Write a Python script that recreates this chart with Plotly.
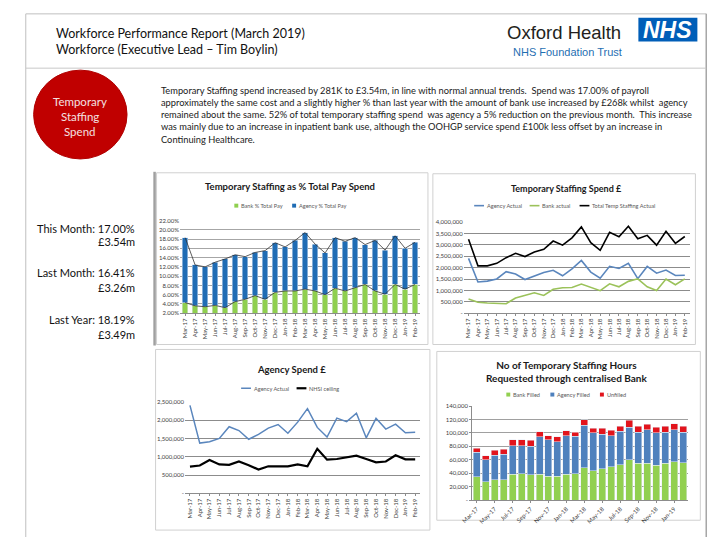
import plotly.graph_objects as go

months = ["Mar-17", "Apr-17", "May-17", "Jun-17", "Jul-17", "Aug-17", "Sep-17", "Oct-17",
          "Nov-17", "Dec-17", "Jan-18", "Feb-18", "Mar-18", "Apr-18", "May-18", "Jun-18",
          "Jul-18", "Aug-18", "Sep-18", "Oct-18", "Nov-18", "Dec-18", "Jan-19", "Feb-19"]

# Chart 1: temporary staffing as % of total pay (stack tops)
total_pct = [18.3, 12.4, 12.0, 13.0, 13.7, 14.6, 14.2, 15.1, 15.5, 17.2, 16.3, 17.7,
             19.4, 16.9, 15.0, 18.3, 17.5, 18.3, 16.8, 17.7, 15.6, 18.7, 16.0, 17.3]
bank_pct = [4.3, 3.6, 3.4, 3.7, 3.2, 4.5, 5.0, 5.8, 5.0, 6.5, 6.8, 6.8,
            7.2, 6.8, 6.0, 7.4, 6.8, 7.5, 8.2, 6.8, 6.1, 8.2, 7.2, 8.2]

# Chart 2 / 3: spend in £
agency_actual = [2410000, 1375000, 1410000, 1505000, 1825000, 1720000, 1480000, 1615000,
                 1785000, 1885000, 1645000, 1950000, 2320000, 1805000, 1540000, 2060000,
                 1965000, 2195000, 1520000, 2055000, 1760000, 1895000, 1660000, 1670000]
bank_actual = [620000, 480000, 450000, 450000, 420000, 670000, 780000, 900000,
               780000, 1050000, 1120000, 1130000, 1280000, 1130000, 990000, 1290000,
               1160000, 1400000, 1510000, 1160000, 1000000, 1500000, 1250000, 1510000]
total_actual = [3250000, 2080000, 2080000, 2190000, 2440000, 2630000, 2490000, 2690000,
                2810000, 3170000, 2990000, 3310000, 3790000, 3100000, 2760000, 3550000,
                3360000, 3820000, 3270000, 3420000, 2990000, 3600000, 3070000, 3370000]
nhsi_ceiling = [730000, 760000, 910000, 790000, 780000, 870000, 770000, 650000,
                740000, 740000, 740000, 790000, 740000, 1220000, 920000, 940000,
                990000, 1030000, 940000, 850000, 870000, 1040000, 930000, 930000]

# Chart 4: hours requested through centralised bank
bank_filled = [34800, 27400, 30400, 30400, 38200, 39200, 37700, 38200, 35300, 35300, 38200, 39200,
               48000, 44100, 47000, 50000, 52400, 59800, 54900, 54900, 51900, 54900, 56800, 55400]
agency_filled = [36700, 32400, 36700, 38200, 42700, 41700, 42700, 56400, 54400, 51900, 57800, 55900,
                 63700, 55900, 51000, 46000, 50000, 49000, 46000, 49500, 48100, 46000, 47600, 45500]
unfilled = [5900, 6300, 7400, 7400, 8800, 8800, 8800, 6800, 6300, 6900, 6900, 5800,
            7900, 6800, 8800, 7900, 7400, 10300, 8900, 8300, 8800, 8900, 9300, 9400]

pct_ticks = [2, 4, 6, 8, 10, 12, 14, 16, 18, 20, 22]
spend_ticks = [0, 500000, 1000000, 1500000, 2000000, 2500000, 3000000, 3500000, 4000000]
agency_ticks = [0, 500000, 1000000, 1500000, 2000000, 2500000]
hours_ticks = [0, 20000, 40000, 60000, 80000, 100000, 120000, 140000]
hours_label_months = months[::2]

W, H = 720, 540
def X(p): return p / W
def Y(p): return 1 - p / H

FONT = "Lato, Carlito, Calibri, sans-serif"
SANS = "Liberation Sans, Arial, sans-serif"

GREEN1 = "#8fcf4f"
BLUE1 = "#1f6cb4"
AG_BLUE = "#5a86bd"
BANK_GREEN = "#9bc25a"
H_GREEN = "#92d050"
H_BLUE = "#4f81bd"
H_RED = "#e2141c"

agency_pct = [round(t - b, 2) for t, b in zip(total_pct, bank_pct)]

def fmt_num(v):
    return "-" if v == 0 else f"{v:,.0f}"

fig = go.Figure()

# ---- Chart 1
fig.add_trace(go.Bar(x=months, y=bank_pct, name="Bank % Total Pay", marker_color=GREEN1,
                     width=0.55, xaxis="x", yaxis="y"))
fig.add_trace(go.Bar(x=months, y=agency_pct, name="Agency % Total Pay", marker_color=BLUE1,
                     width=0.55, xaxis="x", yaxis="y"))
fig.add_trace(go.Scatter(x=months, y=total_pct, mode="lines", line=dict(color="#333333", width=0.8),
                         xaxis="x", yaxis="y", hoverinfo="skip"))
fig.add_trace(go.Scatter(x=months, y=bank_pct, mode="lines", line=dict(color="#333333", width=0.8),
                         xaxis="x", yaxis="y", hoverinfo="skip"))

# ---- Chart 2
fig.add_trace(go.Scatter(x=months, y=agency_actual, mode="lines", name="Agency Actual",
                         line=dict(color=AG_BLUE, width=1.6), xaxis="x2", yaxis="y2"))
fig.add_trace(go.Scatter(x=months, y=bank_actual, mode="lines", name="Bank actual",
                         line=dict(color=BANK_GREEN, width=1.6), xaxis="x2", yaxis="y2"))
fig.add_trace(go.Scatter(x=months, y=total_actual, mode="lines", name="Total Temp Staffing Actual",
                         line=dict(color="#000000", width=1.6), xaxis="x2", yaxis="y2"))

# ---- Chart 3
fig.add_trace(go.Scatter(x=months, y=agency_actual, mode="lines", name="Agency Actual",
                         line=dict(color=AG_BLUE, width=1.5), xaxis="x3", yaxis="y3"))
fig.add_trace(go.Scatter(x=months, y=nhsi_ceiling, mode="lines", name="NHSI ceiling",
                         line=dict(color="#000000", width=2.2), xaxis="x3", yaxis="y3"))

# ---- Chart 4
fig.add_trace(go.Bar(x=months, y=bank_filled, name="Bank Filled", marker_color=H_GREEN,
                     width=0.78, xaxis="x4", yaxis="y4"))
fig.add_trace(go.Bar(x=months, y=agency_filled, name="Agency Filled", marker_color=H_BLUE,
                     width=0.78, xaxis="x4", yaxis="y4"))
fig.add_trace(go.Bar(x=months, y=unfilled, name="Unfilled", marker_color=H_RED,
                     width=0.78, xaxis="x4", yaxis="y4"))

tickfont = dict(family=FONT, size=6, color="#404040")

def xax(domain, anchor, **kw):
    d = dict(domain=domain, anchor=anchor, type="category", range=[-0.5, 23.5],
             tickfont=tickfont, showgrid=False, showline=True, linecolor="#8c8c8c", linewidth=1,
             ticks="outside", ticklen=2, tickcolor="#8c8c8c", zeroline=False, fixedrange=True)
    d.update(kw)
    return d

def yax(domain, anchor, rng, vals, texts, grid="#8c8c8c", **kw):
    d = dict(domain=domain, anchor=anchor, range=rng, tickvals=vals, ticktext=texts,
             tickfont=tickfont, showgrid=True, gridcolor=grid, gridwidth=1, zeroline=False,
             showline=False, ticks="", fixedrange=True)
    d.update(kw)
    return d

fig.update_layout(
    width=W, height=H, margin=dict(l=0, r=0, t=0, b=0, pad=0),
    paper_bgcolor="white", plot_bgcolor="rgba(0,0,0,0)",
    barmode="stack", showlegend=False,
    xaxis=xax([X(171), X(415)], "y", tickangle=-90),
    yaxis=yax([Y(313.3), Y(219.3)], "x", [2, 22], pct_ticks, [f"{v:.2f}%" for v in pct_ticks],
              grid="#a6a6a6"),
    xaxis2=xax([X(459.5), X(689)], "y2", tickangle=-90),
    yaxis2=yax([Y(313.3), Y(221)], "x2", [0, 4000000], spend_ticks, [fmt_num(v) for v in spend_ticks]),
    xaxis3=xax([X(176), X(415)], "y3", tickangle=-90),
    yaxis3=yax([Y(495.7), Y(403.3)], "x3", [0, 2500000], agency_ticks, [fmt_num(v) for v in agency_ticks]),
    xaxis4=xax([X(468), X(687)], "y4", tickangle=-45, tickvals=hours_label_months,
               ticktext=hours_label_months),
    yaxis4=yax([Y(502.7), Y(407.3)], "x4", [0, 140000], hours_ticks, [fmt_num(v) for v in hours_ticks],
               grid="#a0a0a0", showline=True, linecolor="#8c8c8c", ticks="outside", ticklen=2,
               tickcolor="#8c8c8c"),
)

shapes = []
ann = []

def line(x0, y0, x1, y1, color="#bfbfbf", width=1):
    shapes.append(dict(type="line", xref="paper", yref="paper", x0=X(x0), y0=Y(y0), x1=X(x1), y1=Y(y1),
                       line=dict(color=color, width=width), layer="below"))

def rect(x0, y0, x1, y1, color="#d0d0d0", width=1, fill="rgba(0,0,0,0)", layer="below"):
    shapes.append(dict(type="rect", xref="paper", yref="paper", x0=X(x0), y0=Y(y0), x1=X(x1), y1=Y(y1),
                       line=dict(color=color, width=width), fillcolor=fill, layer=layer))

def text(x, y, s, size, color="#000000", family=FONT, xanchor="left", align="left"):
    ann.append(dict(xref="paper", yref="paper", x=X(x), y=Y(y), text=s, showarrow=False,
                    xanchor=xanchor, yanchor="middle", align=align, borderpad=0,
                    font=dict(family=family, size=size, color=color)))

LEG_SIZE = 5.6
LEG_COLOR = "#595959"
def est_w(s):
    return len(s) * LEG_SIZE * 0.5

def legend_row(cx, y, items):
    # items: (kind, color, width, label); kind "sq" or "ln"
    sym = {"sq": 4, "ln": 10}
    gap_sym, gap_item = 2, 8
    total = sum(sym[k] + gap_sym + est_w(lbl) for k, _, _, lbl in items) + gap_item * (len(items) - 1)
    x = cx - total / 2
    for k, col, wd, lbl in items:
        if k == "sq":
            rect(x, y - 2, x + 4, y + 2, color=col, width=0, fill=col, layer="above")
        else:
            shapes.append(dict(type="line", xref="paper", yref="paper", x0=X(x), y0=Y(y),
                               x1=X(x + 10), y1=Y(y), line=dict(color=col, width=wd)))
        x += sym[k] + gap_sym
        text(x, y, lbl, LEG_SIZE, LEG_COLOR)
        x += est_w(lbl) + gap_item

# outer frame
line(14, 10, 706, 10)
line(14, 10, 14, 540)
line(706, 10, 706, 540, color="#a6a6a6", width=1.5)
line(14, 65, 706, 65, color="#c8c8c8")
# left panel divider
line(145, 170, 145, 346, color="#a0a0a0", width=2.5)
# chart frames
rect(147, 171, 423, 345)
rect(428, 172, 695, 345)
rect(146, 350, 425, 533)
rect(432, 352, 700, 523)
# red circle
shapes.append(dict(type="circle", xref="paper", yref="paper", x0=X(22), x1=X(117), y0=Y(157), y1=Y(67),
                   fillcolor="#c00000", line=dict(color="#b00000", width=1)))
# NHS logo box
shapes.append(dict(type="rect", xref="paper", yref="paper", x0=X(637), x1=X(697), y0=Y(38), y1=Y(14),
                   fillcolor="#005eb8", line=dict(width=0)))

# header
text(44, 30, "Workforce Performance Report (March 2019)", 12.5, "#111111")
text(44, 46, "Workforce (Executive Lead \u2013 Tim Boylin)", 12.5, "#111111")
text(561, 29, "Oxford Health", 18.5, "#231f20", family=SANS, xanchor="center")
text(667, 26, "<b><i>NHS</i></b>", 23, "#ffffff", family=SANS, xanchor="center")
text(565, 49, "NHS Foundation Trust", 11, "#1f6fb2", family=SANS, xanchor="center")

# circle text
text(69.5, 99, "Temporary", 11.5, "#f4e0e0", xanchor="center")
text(69.5, 114, "Staffing", 11.5, "#f4e0e0", xanchor="center")
text(69.5, 129, "Spend", 11.5, "#f4e0e0", xanchor="center")

# paragraph
para = [
    "Temporary Staffing spend increased by 281K to \u00a33.54m, in line with normal annual trends.  Spend was 17.00% of payroll",
    "approximately the same cost and a slightly higher % than last year with the amount of bank use increased by \u00a3268k whilst  agency",
    "remained about the same. 52% of total temporary staffing spend  was agency a 5% reduction on the previous month.  This increase",
    "was mainly due to an increase in inpatient bank use, although the OOHGP service spend \u00a3100k less offset by an increase in",
    "Continuing Healthcare.",
]
for i, s in enumerate(para):
    text(151, 88 + i * 12.2, s, 9.3, "#1a1a1a")

# left KPI panel
kpis = [("This Month: 17.00%", 227), ("\u00a33.54m", 241), ("Last Month: 16.41%", 272),
        ("\u00a33.26m", 287), ("Last Year: 18.19%", 320), ("\u00a33.49m", 335)]
for s, y in kpis:
    text(126, y, s, 11, "#111111", xanchor="right")

# chart titles
text(283, 185, "<b>Temporary Staffing as % Total Pay Spend</b>", 9.5, "#1a1a1a", xanchor="center")
text(564, 187, "<b>Temporary Staffing Spend \u00a3</b>", 9, "#1a1a1a", xanchor="center")
text(284, 370, "<b>Agency Spend \u00a3</b>", 9.5, "#1a1a1a", xanchor="center")
text(564, 372, "<b>No of Temporary Staffing Hours<br>Requested through centralised Bank</b>", 10,
     "#1a1a1a", xanchor="center", align="center")

# legends
legend_row(283.7, 204.3, [("sq", GREEN1, 0, "Bank % Total Pay"), ("sq", BLUE1, 0, "Agency % Total Pay")])
legend_row(566, 204.3, [("ln", AG_BLUE, 1.6, "Agency Actual"), ("ln", BANK_GREEN, 1.6, "Bank actual"),
                        ("ln", "#000000", 1.6, "Total Temp Staffing Actual")])
legend_row(284, 389.3, [("ln", AG_BLUE, 1.5, "Agency Actual"), ("ln", "#000000", 2.2, "NHSI ceiling")])
legend_row(564.5, 395.7, [("sq", H_GREEN, 0, "Bank Filled"), ("sq", H_BLUE, 0, "Agency Filled"),
                          ("sq", H_RED, 0, "Unfilled")])

fig.update_layout(shapes=shapes, annotations=ann)
fig.write_html("out.html", config={"displayModeBar": False},
               post_script="document.body.style.margin='0px';")
